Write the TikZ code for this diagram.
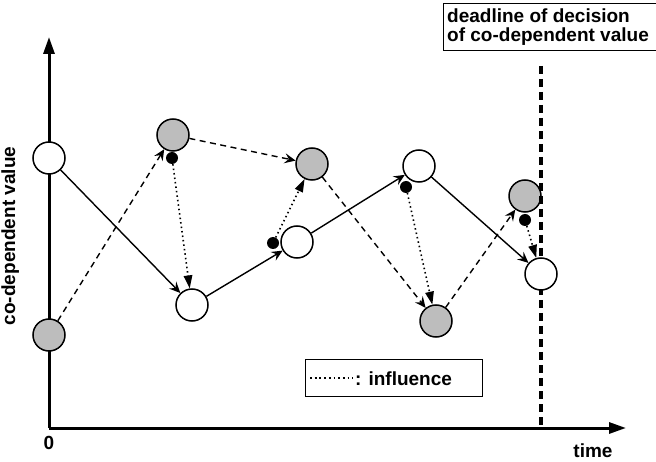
\documentclass[tikz,border=0pt]{standalone}
\usepackage{fontspec}
\setmainfont{Liberation Sans}
\usetikzlibrary{arrows.meta}
\definecolor{gfill}{HTML}{BDBDBD}
\begin{document}
\begin{tikzpicture}[x=1pt,y=-1pt,
  wnode/.style={circle,draw,line width=1.5pt,fill=white,minimum size=32pt,inner sep=0pt},
  gnode/.style={circle,draw,line width=1.5pt,fill=gfill,minimum size=32pt,inner sep=0pt},
  bdot/.style={circle,fill=black,minimum size=12pt,inner sep=0pt},
  solidarr/.style={line width=1.4pt,-{Stealth[length=11pt,width=10pt,inset=4pt]}},
  dasharr/.style={line width=1.4pt,dash pattern=on 6pt off 4.5pt,-{Stealth[length=11pt,width=10pt,inset=4pt]}},
  infarr/.style={line width=1.6pt,dash pattern=on 1.5pt off 3pt,-{Triangle[length=13pt,width=8.5pt]}},
  axis/.style={line width=3pt,-{Triangle[length=17pt,width=11pt]}},
  lbl/.style={font=\fontsize{19}{20}\selectfont\bfseries}
]
\useasboundingbox (0,0) rectangle (656,462);
% axes
\coordinate (O) at (49,428);
\coordinate (Ytop) at (49,37);
\coordinate (Xend) at (626,428);
\draw[axis] (O) -- (Ytop);
\draw[axis] (O) -- (Xend);
% labels
\node[lbl,rotate=90,anchor=base] (ylab) at (15,236) {co-dependent value};
\node[lbl] (zero) at (49,443) {0};
\node[lbl] (time) at (593,451) {time};
\node[draw,line width=1pt,anchor=north west,minimum width=240pt,minimum height=47pt] (dl) at (443,3) {};
\node[lbl,anchor=base west,inner sep=0pt] (dl1) at (447,23) {deadline of decision};
\node[lbl,anchor=base west,inner sep=0pt] (dl2) at (447,42) {of co-dependent value};
% legend
\node[draw,line width=1pt,minimum width=177pt,minimum height=37pt] (leg) at (393.5,378) {};
\coordinate (l1) at (310,378);
\coordinate (l2) at (353,378);
\draw[line width=1.2pt,dash pattern=on 1.8pt off 2.9pt] (l1) -- (l2);
\node[lbl,anchor=base west,inner sep=0pt] (legt) at (355,385) {: influence};
% nodes
\node[gnode] (G1) at (49,335) {};
\node[gnode] (G2) at (173,135) {};
\node[gnode] (G3) at (312,164) {};
\node[gnode] (G4) at (436,321) {};
\node[gnode] (G5) at (525,196) {};
% deadline
\coordinate (Dtop) at (541,66);
\coordinate (Dbot) at (541,428);
\draw[line width=3.2pt,dash pattern=on 8pt off 5pt] (Dtop) -- (Dbot);
\node[wnode] (W1) at (49,158) {};
\node[wnode] (W2) at (192,305) {};
\node[wnode] (W3) at (297,242) {};
\node[wnode] (W4) at (419,166) {};
\node[wnode] (W5) at (541,274) {};
\node[bdot] (d1) at (172,158) {};
\node[bdot] (d2) at (273,243) {};
\node[bdot] (d3) at (406,187) {};
\node[bdot] (d4) at (525,220) {};
% solid chain
\draw[solidarr] (W1) -- (W2);
\draw[solidarr] (W2) -- (W3);
\draw[solidarr] (W3) -- (W4);
\draw[solidarr] (W4) -- (W5);
% dashed chain
\draw[dasharr] (G1) -- (G2);
\draw[dasharr] (G2) -- (G3);
\draw[dasharr] (G3) -- (G4);
\draw[dasharr] (G4) -- (G5);
% influences
\draw[infarr] (d1) -- (W2);
\draw[infarr] (d2) -- (G3);
\draw[infarr] (d3) -- (G4);
\draw[infarr] (d4) -- (W5);
\end{tikzpicture}
\end{document}
